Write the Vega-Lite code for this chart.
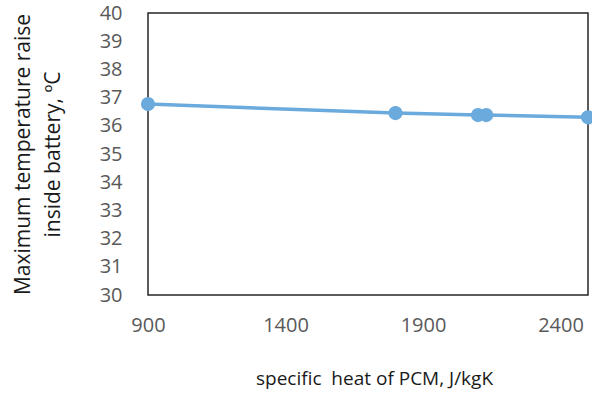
{
  "$schema": "https://vega.github.io/schema/vega-lite/v6.json",
  "autosize": {"type": "none"},
  "padding": {"left": 148, "top": 13, "right": 4, "bottom": 99},
  "width": 440,
  "height": 282,
  "background": "white",
  "config": {
    "view": {"stroke": "#262626", "strokeWidth": 1.5},
    "font": "Open Sans"
  },
  "data": {
    "values": [
      {"cp": 900, "t": 36.77},
      {"cp": 1800, "t": 36.45},
      {"cp": 2100, "t": 36.38},
      {"cp": 2130, "t": 36.38},
      {"cp": 2500, "t": 36.3}
    ]
  },
  "encoding": {
    "x": {
      "field": "cp", "type": "quantitative",
      "scale": {"domain": [900, 2500], "nice": false, "zero": false},
      "axis": {
        "values": [900, 1400, 1900, 2400], "format": "d",
        "grid": false, "domain": false, "ticks": false,
        "labelFontSize": 20, "labelColor": "#595959", "labelPadding": 20,
        "labelFlush": false, "labelOverlap": false,
        "labelFont": "Open Sans",
        "title": "specific\u00a0 heat of PCM, J/kgK",
        "titleFontSize": 19, "titleFontWeight": "normal", "titleColor": "#1a1a1a",
        "titlePadding": 34, "titleFont": "Open Sans", "titleX": 226
      }
    },
    "y": {
      "field": "t", "type": "quantitative",
      "scale": {"domain": [30, 40], "nice": false, "zero": false},
      "axis": {
        "values": [30, 31, 32, 33, 34, 35, 36, 37, 38, 39, 40],
        "grid": false, "domain": false, "ticks": false,
        "labelFontSize": 20, "labelColor": "#595959", "labelPadding": 26,
        "labelFlush": false, "labelOverlap": false,
        "labelFont": "Open Sans",
        "title": ["Maximum temperature raise", "inside battery, ºC"],
        "titleFontSize": 21, "titleFontWeight": "normal", "titleColor": "#1a1a1a",
        "titleLineHeight": 30,
        "titlePadding": 36, "titleFont": "Open Sans"
      }
    }
  },
  "layer": [
    {
      "mark": {"type": "line", "color": "#6AAADC", "strokeWidth": 3.5}
    },
    {
      "mark": {"type": "point", "filled": true, "color": "#6AAADC", "opacity": 1, "size": 200}
    }
  ]
}
